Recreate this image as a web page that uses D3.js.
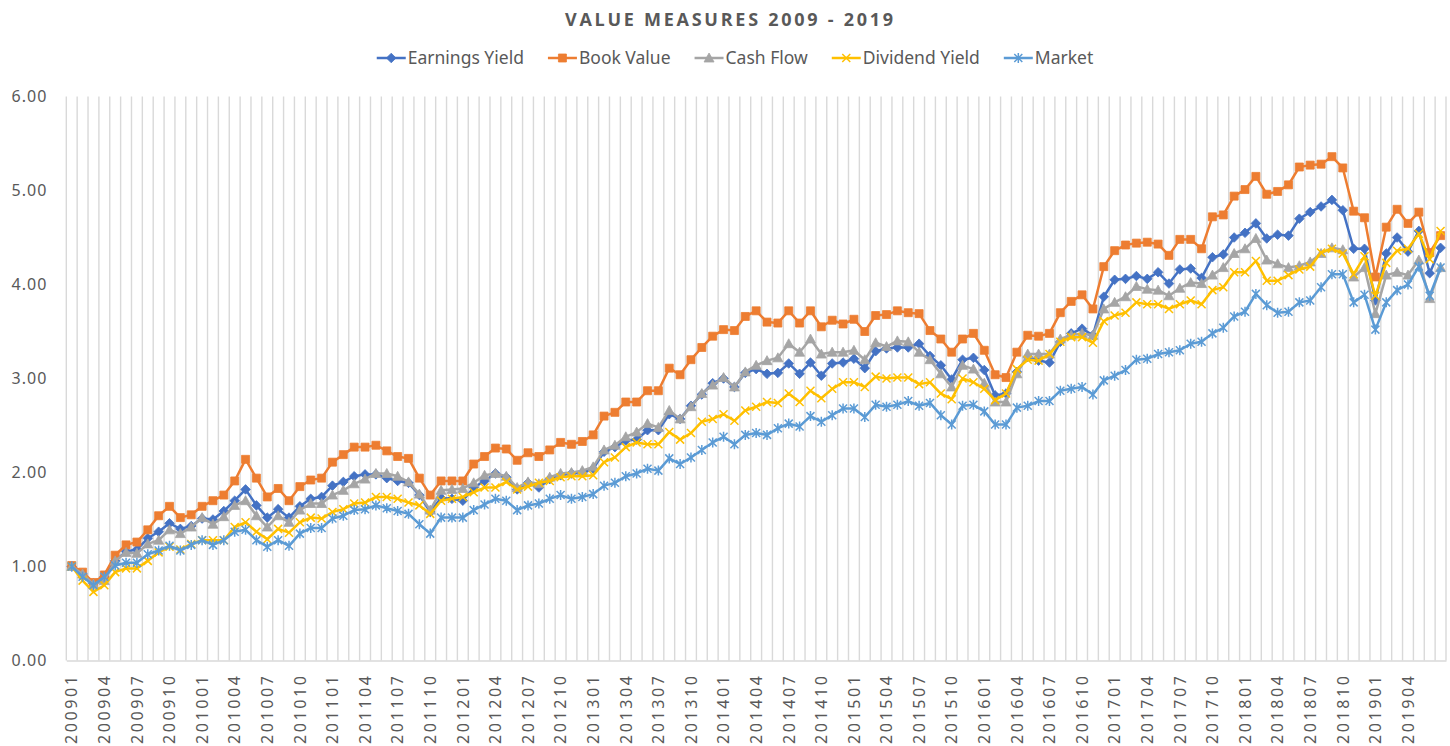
<!DOCTYPE html>
<html>
<head>
<meta charset="utf-8">
<script src="https://cdn.jsdelivr.net/npm/d3@7"></script>
<style>
  body { margin: 0; background: #fff; }
  svg { display: block; font-family: "Noto Sans", sans-serif; }
</style>
</head>
<body>
<svg id="chart" width="1450" height="746"></svg>
<script>
// months 200901 .. 201907
const categories = d3.range(127).map(i => `${2009 + Math.floor(i / 12)}${String(i % 12 + 1).padStart(2, "0")}`);
const tickLabels = categories.filter((d, i) => i % 3 === 0 && i <= 123);
const yTicks = [0, 1, 2, 3, 4, 5, 6];

const seriesNames = ["Earnings Yield", "Book Value", "Cash Flow", "Dividend Yield", "Market"];

const earningsYield = [
  1.00,0.92,0.82,0.89,1.06,1.16,1.18,1.30,1.37,1.46,
  1.40,1.43,1.51,1.50,1.59,1.70,1.82,1.65,1.52,1.61,
  1.52,1.64,1.72,1.74,1.86,1.90,1.96,1.98,1.98,1.94,
  1.91,1.89,1.76,1.58,1.73,1.72,1.70,1.84,1.91,1.99,
  1.95,1.82,1.89,1.84,1.93,1.97,1.99,2.00,2.04,2.22,
  2.27,2.34,2.35,2.45,2.45,2.62,2.57,2.71,2.83,2.95,
  3.00,2.91,3.06,3.10,3.05,3.06,3.16,3.05,3.17,3.03,
  3.16,3.17,3.21,3.11,3.29,3.32,3.33,3.33,3.37,3.24,
  3.14,2.99,3.20,3.22,3.09,2.82,2.84,3.07,3.23,3.19,
  3.17,3.39,3.48,3.53,3.46,3.87,4.05,4.06,4.09,4.06,
  4.13,4.01,4.16,4.17,4.07,4.29,4.32,4.50,4.55,4.65,
  4.49,4.53,4.52,4.70,4.77,4.83,4.90,4.79,4.38,4.38,
  3.83,4.33,4.50,4.35,4.57,4.12,4.39
];
const bookValue = [
  1.01,0.94,0.83,0.91,1.12,1.23,1.26,1.39,1.54,1.64,
  1.52,1.55,1.64,1.70,1.76,1.91,2.14,1.94,1.74,1.83,
  1.70,1.85,1.92,1.94,2.11,2.19,2.27,2.27,2.29,2.23,
  2.17,2.15,1.94,1.76,1.91,1.91,1.91,2.09,2.17,2.26,
  2.25,2.13,2.21,2.17,2.24,2.32,2.30,2.33,2.40,2.60,
  2.64,2.75,2.75,2.87,2.87,3.11,3.04,3.20,3.33,3.45,
  3.52,3.51,3.66,3.72,3.60,3.59,3.72,3.59,3.72,3.55,
  3.62,3.58,3.63,3.50,3.67,3.68,3.72,3.70,3.69,3.51,
  3.42,3.28,3.42,3.48,3.30,3.04,3.01,3.28,3.46,3.45,
  3.48,3.70,3.82,3.89,3.74,4.19,4.36,4.42,4.44,4.45,
  4.43,4.31,4.48,4.48,4.38,4.72,4.74,4.94,5.01,5.15,
  4.96,4.99,5.06,5.25,5.27,5.28,5.36,5.24,4.78,4.71,
  4.08,4.61,4.80,4.65,4.77,4.34,4.52
];
const cashFlow = [
  1.00,0.92,0.81,0.85,1.06,1.15,1.14,1.24,1.28,1.39,
  1.35,1.42,1.52,1.45,1.53,1.65,1.70,1.54,1.42,1.54,
  1.47,1.60,1.67,1.67,1.76,1.81,1.88,1.93,1.99,1.99,
  1.96,1.90,1.77,1.60,1.81,1.82,1.83,1.89,1.97,1.99,
  1.96,1.84,1.90,1.88,1.95,1.99,2.00,2.02,2.06,2.24,
  2.29,2.38,2.43,2.52,2.48,2.66,2.57,2.70,2.84,2.93,
  3.01,2.91,3.07,3.14,3.19,3.22,3.37,3.28,3.42,3.26,
  3.28,3.28,3.30,3.20,3.38,3.34,3.40,3.39,3.28,3.20,
  3.05,2.91,3.14,3.10,2.95,2.75,2.75,3.05,3.26,3.26,
  3.26,3.42,3.46,3.48,3.46,3.74,3.81,3.87,3.98,3.95,
  3.94,3.88,3.96,4.02,4.01,4.10,4.18,4.33,4.38,4.49,
  4.26,4.22,4.18,4.20,4.24,4.33,4.39,4.37,4.08,4.18,
  3.69,4.10,4.13,4.10,4.26,3.85,4.18
];
const dividendYield = [
  1.00,0.85,0.73,0.80,0.94,0.98,0.98,1.06,1.15,1.21,
  1.18,1.24,1.28,1.28,1.28,1.42,1.47,1.37,1.29,1.40,
  1.36,1.47,1.52,1.51,1.58,1.61,1.67,1.68,1.74,1.74,
  1.72,1.68,1.65,1.56,1.70,1.72,1.74,1.79,1.84,1.84,
  1.90,1.82,1.85,1.89,1.91,1.95,1.96,1.96,1.97,2.11,
  2.16,2.27,2.32,2.30,2.30,2.43,2.35,2.42,2.54,2.57,
  2.62,2.55,2.66,2.70,2.75,2.74,2.84,2.75,2.87,2.79,
  2.89,2.96,2.96,2.91,3.02,3.00,3.01,3.01,2.94,2.96,
  2.84,2.78,3.00,2.96,2.89,2.77,2.84,3.10,3.20,3.19,
  3.26,3.39,3.44,3.44,3.38,3.61,3.67,3.70,3.81,3.79,
  3.79,3.74,3.79,3.83,3.79,3.94,3.97,4.13,4.13,4.25,
  4.04,4.04,4.10,4.16,4.19,4.34,4.38,4.33,4.11,4.30,
  3.88,4.23,4.36,4.38,4.54,4.27,4.57
];
const market = [
  1.00,0.89,0.80,0.89,1.01,1.04,1.04,1.13,1.17,1.22,
  1.17,1.23,1.28,1.23,1.28,1.37,1.39,1.28,1.21,1.28,
  1.22,1.35,1.41,1.41,1.51,1.54,1.60,1.61,1.65,1.62,
  1.59,1.56,1.45,1.35,1.52,1.52,1.52,1.60,1.66,1.72,
  1.70,1.60,1.65,1.67,1.72,1.76,1.72,1.74,1.77,1.86,
  1.89,1.96,1.99,2.04,2.02,2.15,2.09,2.16,2.24,2.32,
  2.38,2.30,2.40,2.42,2.40,2.47,2.52,2.49,2.60,2.54,
  2.61,2.68,2.68,2.59,2.72,2.70,2.72,2.76,2.71,2.74,
  2.61,2.51,2.71,2.72,2.65,2.51,2.51,2.69,2.71,2.76,
  2.76,2.87,2.89,2.91,2.83,2.98,3.03,3.09,3.20,3.21,
  3.26,3.28,3.30,3.37,3.39,3.48,3.54,3.66,3.71,3.90,
  3.78,3.70,3.71,3.81,3.83,3.97,4.11,4.11,3.81,3.89,
  3.52,3.81,3.94,4.00,4.19,3.88,4.18
];

const seriesValues = [earningsYield, bookValue, cashFlow, dividendYield, market];
const colors = ["#4472C4", "#ED7D31", "#A5A5A5", "#FFC000", "#5B9BD5"];
// marker shapes: [path, filled?]
const markers = [
  ["M0,-4.8L4.8,0L0,4.8L-4.8,0Z", true],
  ["M-4,-4H4V4H-4Z", true],
  ["M0,-5L5,4L-5,4Z", true],
  ["M-4,-4L4,4M-4,4L4,-4", false],
  ["M-4,-4L4,4M-4,4L4,-4M0,-5V5", false]
];

const svg = d3.select("#chart");
const plotL = 66.3, plotR = 1446, plotT = 96.5, plotB = 660.5;
const textColor = "#595959";

const x = d3.scaleBand().domain(categories).range([plotL, plotR]).padding(0);
const y = d3.scaleLinear().domain([0, 6]).range([plotB, plotT]);
const cx = d => x(d) + x.bandwidth() / 2;

// vertical gridlines between categories
svg.append("g").selectAll("line")
  .data(categories.map(c => x(c)).concat([plotR]))
  .enter().append("line")
  .attr("x1", d => d).attr("x2", d => d)
  .attr("y1", plotT).attr("y2", plotB)
  .attr("stroke", "#d9d9d9").attr("stroke-width", 1.4);

// y axis labels
const yAxis = svg.append("g").attr("transform", `translate(${plotL - 16},0)`)
  .call(d3.axisLeft(y).tickValues(yTicks).tickFormat(d3.format(".2f")).tickSize(0));
yAxis.select(".domain").remove();
yAxis.selectAll("text")
  .attr("fill", textColor).attr("font-size", 16)
  .attr("font-family", "Noto Sans").style("letter-spacing", "1px");

// x axis
const xAxis = svg.append("g").attr("transform", `translate(0,${plotB})`)
  .call(d3.axisBottom(x).tickValues(tickLabels).tickSize(0));
xAxis.select(".domain").attr("stroke", "#d9d9d9").attr("stroke-width", 1.4);
xAxis.selectAll("text")
  .attr("transform", "rotate(-90)")
  .attr("text-anchor", "end")
  .attr("x", -13).attr("y", 0).attr("dy", "0.36em")
  .attr("fill", textColor).attr("font-size", 16)
  .attr("font-family", "Noto Sans").style("letter-spacing", "2.6px");

// series
const line = d3.line().x((d, i) => cx(categories[i])).y(d => y(d));
seriesValues.forEach((vals, s) => {
  const g = svg.append("g");
  g.append("path").datum(vals)
    .attr("d", line).attr("fill", "none")
    .attr("stroke", colors[s]).attr("stroke-width", 2.5)
    .attr("stroke-linejoin", "round");
  g.selectAll("path.m").data(vals).enter().append("path")
    .attr("class", "m")
    .attr("transform", (d, i) => `translate(${cx(categories[i])},${y(d)})`)
    .attr("d", markers[s][0])
    .attr("fill", markers[s][1] ? colors[s] : "none")
    .attr("stroke", colors[s]).attr("stroke-width", markers[s][1] ? 0.8 : 1.5);
});

// title
svg.append("text")
  .attr("x", 729).attr("y", 26)
  .attr("text-anchor", "middle")
  .attr("font-family", "Open Sans").attr("font-weight", 700).attr("font-size", 18)
  .attr("fill", textColor)
  .attr("textLength", 328).attr("lengthAdjust", "spacing")
  .text("VALUE MEASURES 2009 - 2019");

// legend
const legend = svg.append("g");
const items = seriesNames.map((name, s) => {
  const g = legend.append("g");
  g.append("line").attr("x1", 0).attr("x2", 29).attr("y1", 0).attr("y2", 0)
    .attr("stroke", colors[s]).attr("stroke-width", 2.5);
  g.append("path").attr("transform", "translate(14.5,0)")
    .attr("d", markers[s][0])
    .attr("fill", markers[s][1] ? colors[s] : "none")
    .attr("stroke", colors[s]).attr("stroke-width", markers[s][1] ? 0.8 : 1.5);
  const t = g.append("text").attr("x", 31).attr("dy", "0.35em")
    .attr("font-size", 17.5).attr("fill", textColor).text(name);
  return { g, w: 31 + t.node().getComputedTextLength() };
});
const gap = 24;
const total = d3.sum(items, d => d.w) + gap * (items.length - 1);
let lx = 735 - total / 2;
items.forEach(it => {
  it.g.attr("transform", `translate(${lx},58)`);
  lx += it.w + gap;
});
</script>
</body>
</html>
